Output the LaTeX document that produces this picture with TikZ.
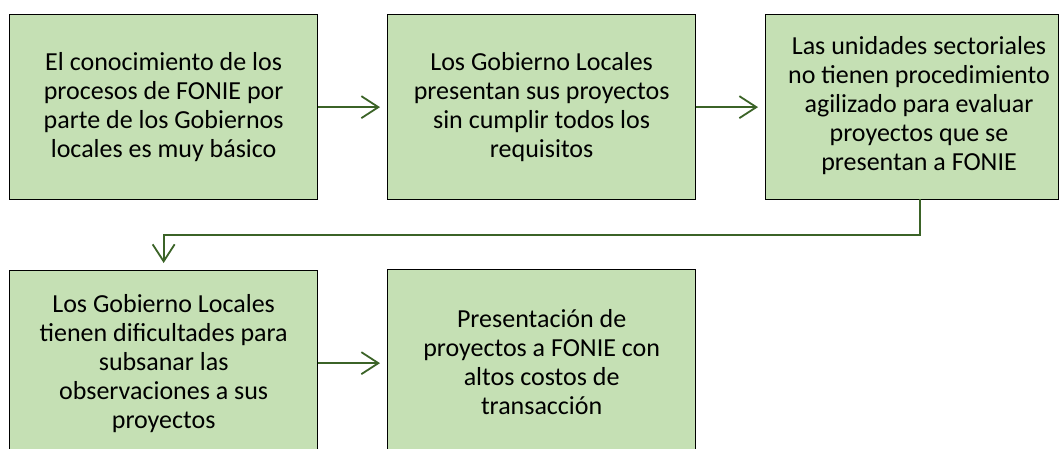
\documentclass[tikz,border=0pt]{standalone}
\usepackage{fontspec}
\setmainfont{Carlito}
\usetikzlibrary{arrows.meta}
\definecolor{boxfill}{HTML}{C5E0B4}
\definecolor{arrowgreen}{HTML}{3B6327}
\tikzset{
  stepbox/.style={draw=black, line width=1.3pt, fill=boxfill, inner sep=0pt, anchor=north west},
  boxtext/.style={align=center, inner sep=0pt, font=\fontsize{26}{29}\selectfont},
  flow/.style={draw=arrowgreen, line width=1.8pt, -{Straight Barb[length=17pt,width=22pt,line width=1.8pt]}, shorten >=7pt}
}
\begin{document}
\begin{tikzpicture}[x=1pt,y=-1pt]
\useasboundingbox (0,0) rectangle (1060,449);
\begin{scope}
\clip (0,0) rectangle (1060,449);
\node[stepbox, minimum width=308pt, minimum height=185pt] (b1) at (9,14) {};
\node[stepbox, minimum width=308pt, minimum height=185pt] (b2) at (387,14) {};
\node[stepbox, minimum width=293pt, minimum height=185pt] (b3) at (765,14) {};
\node[stepbox, minimum width=308pt, minimum height=185pt] (b4) at (9,270) {};
\node[stepbox, minimum width=308pt, minimum height=185pt] (b5) at (387,269) {};
\end{scope}
\node[boxtext] (t1) at (b1.center) {El conocimiento de los\\procesos de FONIE por\\parte de los Gobiernos\\locales es muy básico};
\node[boxtext] (t2) at (b2.center) {Los Gobierno Locales\\presentan sus proyectos\\sin cumplir todos los\\requisitos};
\node[boxtext] (t3) at (919,106) {Las unidades sectoriales\\no tienen procedimiento\\agilizado para evaluar\\proyectos que se\\presentan a FONIE};
\node[boxtext] (t4) at (b4.center) {Los Gobierno Locales\\tienen dificultades para\\subsanar las\\observaciones a sus\\proyectos};
\node[boxtext] (t5) at (b5.center) {Presentación de\\proyectos a FONIE con\\altos costos de\\transacción};
\draw[flow] (b1.east) -- (b1.east -| b2.west);
\draw[flow] (b2.east) -- (b2.east -| b3.west);
\draw[flow] (b4.east) -- (b4.east -| b5.west);
\coordinate (d1) at (920,199);
\coordinate (d2) at (920,235);
\draw[flow] (d1) -- (d2) -| (b4.north);
\end{tikzpicture}
\end{document}
